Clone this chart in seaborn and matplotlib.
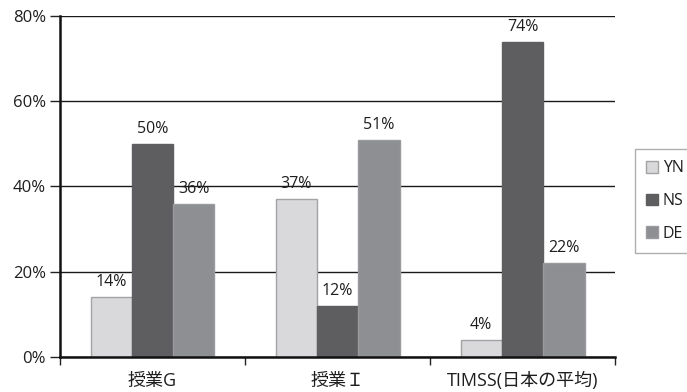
import matplotlib
matplotlib.use("Agg")
import matplotlib.pyplot as plt
import seaborn as sns
import pandas as pd
from matplotlib.ticker import FixedLocator, FuncFormatter
from matplotlib.patches import Patch

categories = ["授業G", "授業Ｉ", "TIMSS(日本の平均)"]
series = ["YN", "NS", "DE"]
yn = [14, 37, 4]
ns = [50, 12, 74]
de = [36, 51, 22]

colors = {"YN": "#d9d9db", "NS": "#5e5e60", "DE": "#8e8f92"}
edges = {"YN": "#a3a3a5", "NS": "#5e5e60", "DE": "#9a9b9e"}

df = pd.DataFrame({
    "category": categories * 3,
    "series": ["YN"] * 3 + ["NS"] * 3 + ["DE"] * 3,
    "value": yn + ns + de,
})

sns.set_style("white")
plt.rcParams["font.family"] = ["Open Sans", "Noto Sans CJK JP", "DejaVu Sans"]
plt.rcParams["text.color"] = "#1e1e1e"
plt.rcParams["xtick.color"] = "#1e1e1e"
plt.rcParams["ytick.color"] = "#1e1e1e"

fig = plt.figure(figsize=(6.87, 3.92), dpi=100)
ax = fig.add_axes([0.0873, 0.0893, 0.808, 0.870])

sns.barplot(data=df, x="category", y="value", hue="series", order=categories,
            hue_order=series, palette=colors, width=0.67, saturation=1,
            legend=False, ax=ax)

for cont, s in zip(ax.containers, series):
    for bar in cont:
        bar.set_edgecolor(edges[s])
        bar.set_linewidth(1.0)
    ax.bar_label(cont, fmt="%.0f%%", padding=5, fontsize=11.5, color="#1e1e1e")

ax.set_ylim(0, 80)
ax.set_xlim(-0.5, 2.5)
ax.set_yticks([0, 20, 40, 60, 80])
ax.yaxis.set_major_formatter(FuncFormatter(lambda v, p: f"{v:.0f}%"))
ax.grid(axis="y", color="#1a1a1a", linewidth=1.0)
ax.set_axisbelow(True)
ax.set_xlabel("")
ax.set_ylabel("")

for side in ["top", "right"]:
    ax.spines[side].set_visible(False)
for side in ["left", "bottom"]:
    ax.spines[side].set_color("#111111")
    ax.spines[side].set_linewidth(1.8)

ax.tick_params(axis="y", which="major", length=7, width=1.0, color="#222222",
               labelsize=12, pad=3, left=True)
ax.tick_params(axis="x", which="major", length=0, labelsize=13, pad=11)
ax.xaxis.set_minor_locator(FixedLocator([-0.5, 0.5, 1.5, 2.5]))
ax.tick_params(axis="x", which="minor", length=6, width=1.0, color="#222222",
               bottom=True)

handles = [Patch(facecolor=colors[s], edgecolor=edges[s], label=s) for s in series]
fig.legend(handles=handles, loc="center left", bbox_to_anchor=(0.924, 0.487),
           frameon=True, fancybox=False, edgecolor="#9a9a9a", fontsize=11.5,
           handlelength=0.75, handleheight=0.75, handletextpad=0.3,
           labelspacing=1.05, borderpad=0.7, borderaxespad=0)

fig.savefig("out.png", dpi=100)
